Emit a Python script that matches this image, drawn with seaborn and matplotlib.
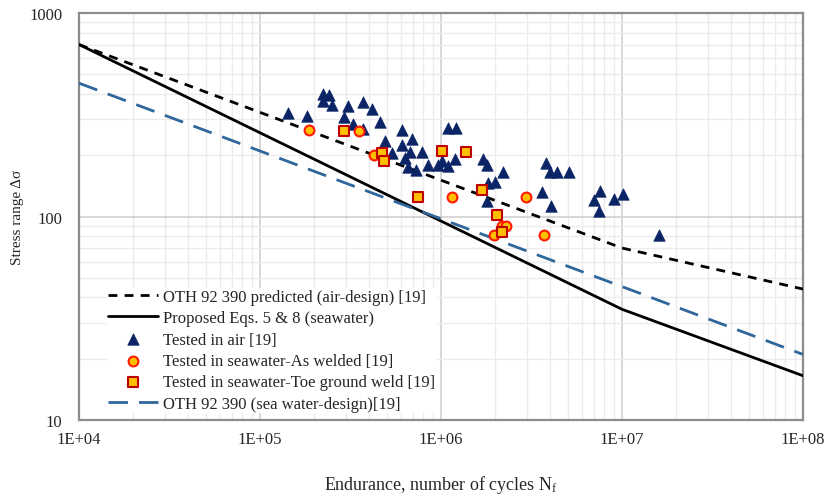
import numpy as np
import pandas as pd
import matplotlib
matplotlib.use("Agg")
import matplotlib.pyplot as plt
import seaborn as sns
from matplotlib.ticker import FixedLocator, FuncFormatter, LogLocator, NullFormatter

# ---- design curves (knot points) ----
oth_air_N = [1e4, 1e7, 1e8]
oth_air_S = [700, 70, 44]
proposed_N = [1e4, 1e7, 1e8]
proposed_S = [700, 35, 16.5]
oth_sea_N = [1e4, 1e8]
oth_sea_S = [452, 21]

# ---- test data ----
air_N = [1.43e5, 1.81e5, 2.22e5, 2.42e5, 2.22e5, 2.49e5, 3.05e5, 2.91e5, 3.69e5, 4.14e5,
         3.28e5, 3.69e5, 4.60e5, 6.07e5, 4.91e5, 6.07e5, 6.92e5, 5.38e5, 6.74e5, 7.85e5,
         6.32e5, 6.60e5, 7.27e5, 8.48e5, 9.67e5, 1.09e6, 1.20e6, 1.10e6, 1.21e6, 1.01e6,
         1.71e6, 1.80e6, 2.19e6, 1.81e6, 1.98e6, 1.80e6, 3.80e6, 4.00e6, 4.36e6, 5.10e6,
         3.63e6, 4.05e6, 7.53e6, 7.03e6, 7.49e6, 9.0e6, 1.01e7, 1.61e7]
air_S = [321, 311, 400, 397, 371, 353, 348, 307, 364, 338,
         285, 269, 292, 265, 234, 225, 239, 206, 207, 207,
         194, 175, 169, 180, 180, 178, 192, 273, 273, 188,
         192, 179, 166, 146, 147, 119, 184, 165, 165, 165,
         132, 112, 133, 120, 106, 122, 129, 80.8]

aw_N = [1.86e5, 3.52e5, 4.28e5, 1.15e6, 2.94e6, 1.97e6, 2.17e6, 2.30e6, 3.69e6]
aw_S = [266, 264, 200, 125, 125, 81, 90, 90, 81.4]

tg_N = [2.92e5, 4.70e5, 4.86e5, 7.46e5, 1.01e6, 1.37e6, 1.69e6, 2.04e6, 2.17e6]
tg_S = [262, 204, 188, 124, 211, 207, 135, 102, 84]

x_ticks = [1e4, 1e5, 1e6, 1e7, 1e8]
y_ticks = [10, 100, 1000]

labels = {
    "air": "OTH 92 390 predicted (air-design) [19]",
    "prop": "Proposed Eqs. 5 & 8 (seawater)",
    "t_air": "Tested in air [19]",
    "t_aw": "Tested in seawater-As welded [19]",
    "t_tg": "Tested in seawater-Toe ground weld [19]",
    "sea": "OTH 92 390 (sea water-design)[19]",
}

sns.set_style("white")
plt.rcParams["font.family"] = ["Liberation Serif", "DejaVu Serif"]
plt.rcParams["mathtext.fontset"] = "custom"
plt.rcParams["mathtext.rm"] = "Liberation Serif"
plt.rcParams["mathtext.it"] = "Liberation Serif"

fig = plt.figure(figsize=(8.25, 5.02), dpi=100)
ax = fig.add_axes([79 / 825, 1 - 421 / 502, (803 - 79) / 825, (421 - 14) / 502])

ax.set_xscale("log")
ax.set_yscale("log")

df_air = pd.DataFrame({"N": oth_air_N, "S": oth_air_S})
df_prop = pd.DataFrame({"N": proposed_N, "S": proposed_S})
df_sea = pd.DataFrame({"N": oth_sea_N, "S": oth_sea_S})

sns.lineplot(data=df_air, x="N", y="S", ax=ax, color="black", lw=2.0,
             linestyle=(0, (3.2, 2.6)), label=labels["air"], zorder=3, sort=False)
sns.lineplot(data=df_prop, x="N", y="S", ax=ax, color="black", lw=2.0,
             label=labels["prop"], zorder=3, sort=False)
sns.lineplot(data=df_sea, x="N", y="S", ax=ax, color="#2F669B", lw=2.0,
             linestyle=(0, (7, 4)), label=labels["sea"], zorder=3, sort=False)

sns.scatterplot(x=air_N, y=air_S, ax=ax, marker="^", s=68, color="#0A2466",
                edgecolor="#0A2466", linewidth=0.5, label=labels["t_air"], zorder=4)
sns.scatterplot(x=aw_N, y=aw_S, ax=ax, marker="o", s=50, color="#FFC000",
                edgecolor="#FF1A00", linewidth=1.5, label=labels["t_aw"], zorder=5)
sns.scatterplot(x=tg_N, y=tg_S, ax=ax, marker="s", s=52, color="#FFC000",
                edgecolor="#C00000", linewidth=1.5, label=labels["t_tg"], zorder=5)

ax.set_xlim(1e4, 1e8)
ax.set_ylim(10, 1000)

ax.xaxis.set_major_locator(FixedLocator(x_ticks))
ax.xaxis.set_major_formatter(FuncFormatter(lambda v, p: "1E+%02d" % int(round(np.log10(v)))))
ax.xaxis.set_minor_locator(LogLocator(base=10, subs=np.arange(2, 10)))
ax.xaxis.set_minor_formatter(NullFormatter())
ax.yaxis.set_major_locator(FixedLocator(y_ticks))
ax.yaxis.set_major_formatter(FuncFormatter(lambda v, p: "%d" % int(round(v))))
ax.yaxis.set_minor_locator(LogLocator(base=10, subs=np.arange(2, 10)))
ax.yaxis.set_minor_formatter(NullFormatter())

ax.grid(which="major", color="#D4D4D4", lw=1.3, zorder=0)
ax.grid(which="minor", color="#EBEBEB", lw=1.0, zorder=0)
ax.set_axisbelow(True)

ax.tick_params(axis="both", which="both", length=0, labelsize=12)
ax.tick_params(axis="y", pad=12)
ax.tick_params(axis="x", pad=8)

for sp in ax.spines.values():
    sp.set_color("#8C8C8C")
    sp.set_linewidth(1.6)

ax.set_xlabel(r"Endurance, number of cycles N$_\mathregular{f}$", fontsize=13, labelpad=19)
ax.set_ylabel("Stress range Δσ", fontsize=11, labelpad=4)

handles, labs = ax.get_legend_handles_labels()
order = [labels[k] for k in ["air", "prop", "t_air", "t_aw", "t_tg", "sea"]]
hmap = dict(zip(labs, handles))
leg = ax.legend([hmap[l] for l in order], order, loc="lower left",
                bbox_to_anchor=(0.027, -0.002), fontsize=12, frameon=True,
                framealpha=1.0, facecolor="white", edgecolor="white",
                handlelength=3.0, handletextpad=0.3, labelspacing=0.32,
                borderpad=0.05, fancybox=False)
leg.set_zorder(10)

fig.savefig("out.png", dpi=100)
